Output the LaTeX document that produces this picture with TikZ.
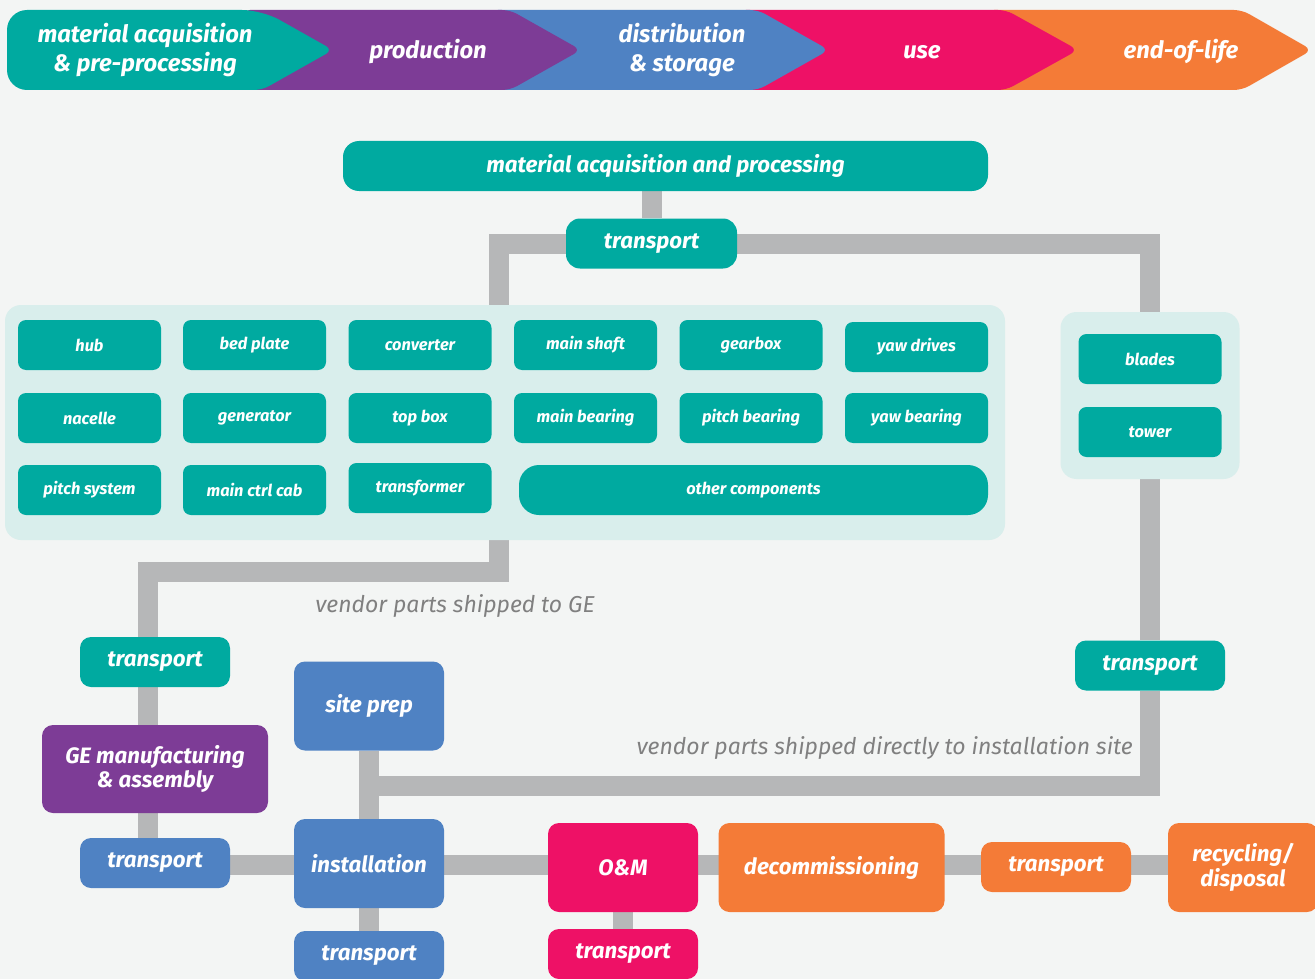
\documentclass[tikz,border=0pt]{standalone}
\usepackage{fontspec}
\setmainfont{Fira Sans}
\usetikzlibrary{backgrounds}
\definecolor{cteal}{HTML}{00AAA0}
\definecolor{cpurple}{HTML}{7D3C96}
\definecolor{cblue}{HTML}{4F82C3}
\definecolor{cmag}{HTML}{EE1166}
\definecolor{corange}{HTML}{F47B37}
\definecolor{cgrey}{HTML}{B6B7B8}
\definecolor{cpanel}{HTML}{D9EEEC}
\definecolor{cbg}{HTML}{F3F5F4}
\definecolor{ctext}{HTML}{808080}
\tikzset{
 box/.style={rounded corners=11pt, inner sep=0pt, text=white, align=center,
   font=\bfseries\itshape\fontsize{22.3}{24.5}\selectfont},
 comp/.style={box, fill=cteal, minimum width=143pt, minimum height=50pt, rounded corners=8pt,
   font=\bfseries\itshape\fontsize{16.4}{19}\selectfont},
 tbox/.style={box, minimum width=150pt, minimum height=50pt},
 bigbox/.style={box, minimum width=150pt, minimum height=89pt},
 conn/.style={draw=cgrey, line width=20pt},
 chev/.style={rounded corners=8pt},
 chevtext/.style={text=white, align=center, inner sep=0pt,
   font=\bfseries\itshape\fontsize{23.8}{29}\selectfont},
 note/.style={text=ctext, inner sep=0pt, font=\itshape\fontsize{23}{27}\selectfont},
 panel/.style={fill=cpanel, rounded corners=16pt, inner sep=0pt},
}
\begin{document}
\begin{tikzpicture}[x=1pt,y=-1pt]
\useasboundingbox (0,0) rectangle (1315,979);
\clip (0,0) rectangle (1315,979);
% chevrons (right to left so each overlaps the next)
\fill[corange,chev] (986,10) -- (1242,10) -- (1312,50) -- (1242,90) -- (986,90) -- cycle;
\fill[cmag,chev] (738,10) -- (1006,10) -- (1078,50) -- (1006,90) -- (738,90) -- cycle;
\fill[cblue,chev] (490,10) -- (758,10) -- (829,50) -- (758,90) -- (490,90) -- cycle;
\fill[cpurple,chev] (242,10) -- (510,10) -- (581,50) -- (510,90) -- (242,90) -- cycle;
\fill[cteal,rounded corners=20pt] (7,10) -- (262,10) [rounded corners=8pt] -- (333,50) -- (262,90) [rounded corners=20pt] -- (7,90) -- cycle;
\node[chevtext] (ch1) at (145,50) {material acquisition\\\& pre-processing};
\node[chevtext] (ch2) at (428,52) {production};
\node[chevtext] (ch3) at (682,50) {distribution\\\& storage};
\node[chevtext] (ch4) at (922,52) {use};
\node[chevtext] (ch5) at (1181,52) {end-of-life};

% panels
\node[panel, minimum width=1000pt, minimum height=235pt] (bigpanel) at (505,422.5) {};
\node[panel, minimum width=179pt, minimum height=167pt] (smallpanel) at (1150,395.5) {};

% nodes
\node[box, fill=cteal, minimum width=645pt, minimum height=50pt, rounded corners=16pt] (mat) at (665.5,166) {material acquisition and processing};
\node[tbox, fill=cteal, minimum width=171pt, rounded corners=14pt] (ttop) at (651.5,243.5) {transport};

\node[comp] (hub) at (89.5,345) {hub};
\node[comp] (bed) at (254.5,345) {bed plate};
\node[comp] (conv) at (420,345) {converter};
\node[comp] (shaft) at (585.5,345) {main shaft};
\node[comp] (gear) at (751,345) {gearbox};
\node[comp] (yawd) at (916.5,347) {yaw drives};
\node[comp] (nac) at (89.5,418) {nacelle};
\node[comp] (gen) at (254.5,418) {generator};
\node[comp] (topbox) at (420,418) {top box};
\node[comp] (mbear) at (585.5,418) {main bearing};
\node[comp] (pbear) at (751,418) {pitch bearing};
\node[comp] (ybear) at (916.5,418) {yaw bearing};
\node[comp] (psys) at (89.5,490) {pitch system};
\node[comp] (mcc) at (254.5,490) {main ctrl cab};
\node[comp] (trans) at (420,488) {transformer};
\node[comp, minimum width=469pt, rounded corners=20pt] (other) at (753.5,490) {other components};
\node[comp] (blades) at (1150,359) {blades};
\node[comp] (tower) at (1150,432) {tower};

\node[tbox, fill=cteal] (tteal) at (155,662) {transport};
\node[tbox, fill=cteal] (tright) at (1150,665.5) {transport};
\node[box, fill=cpurple, minimum width=226pt, minimum height=88pt] (ge) at (155,769) {GE manufacturing\\\& assembly};
\node[tbox, fill=cblue] (tblue) at (155,863) {transport};
\node[bigbox, fill=cblue] (site) at (369,706) {site prep};
\node[bigbox, fill=cblue] (inst) at (369,863.5) {installation};
\node[tbox, fill=cblue] (tinst) at (369,956) {transport};
\node[bigbox, fill=cmag] (om) at (623,867.5) {O\&M};
\node[tbox, fill=cmag] (tom) at (623,954) {transport};
\node[bigbox, fill=corange, minimum width=226pt] (decom) at (831.5,867.5) {decommissioning};
\node[tbox, fill=corange] (tor) at (1056,867) {transport};
\node[bigbox, fill=corange] (recyc) at (1243,867.5) {recycling/\\disposal};

% connectors (behind the nodes)
\coordinate (jl) at (499,305);
\coordinate (jb) at (499,540);
\coordinate (gl) at (148,640);
\coordinate (gb) at (148,840);
\coordinate (hl) at (155,865);
\coordinate (hr) at (1200,865);
\begin{pgfonlayer}{background}
\fill[cbg] (0,0) rectangle (1315,979);
\draw[conn] (ttop.north |- mat.south) -- (ttop.north);
\draw[conn] (jl) |- (ttop.west);
\draw[conn] (ttop.east) -| (smallpanel.north);
\draw[conn] (jb) -- ++(0,32) -| (gl);
\draw[conn] (gl) -- (gb);
\draw[conn] (smallpanel.south) -- (tright.north);
\draw[conn] (tright.south) -- ++(0,95) -| (site.south);
\draw[conn] (site.south) -- (inst.north);
\draw[conn] (inst.south) -- (tinst.north);
\draw[conn] (hl) -- (hr);
\draw[conn] (om.south) -- (tom.north);
\end{pgfonlayer}

\node[note, anchor=center] (n1) at (455,606) {vendor parts shipped to GE};
\node[note, anchor=east] (n2) at (1133,748) {vendor parts shipped directly to installation site};
\end{tikzpicture}
\end{document}
